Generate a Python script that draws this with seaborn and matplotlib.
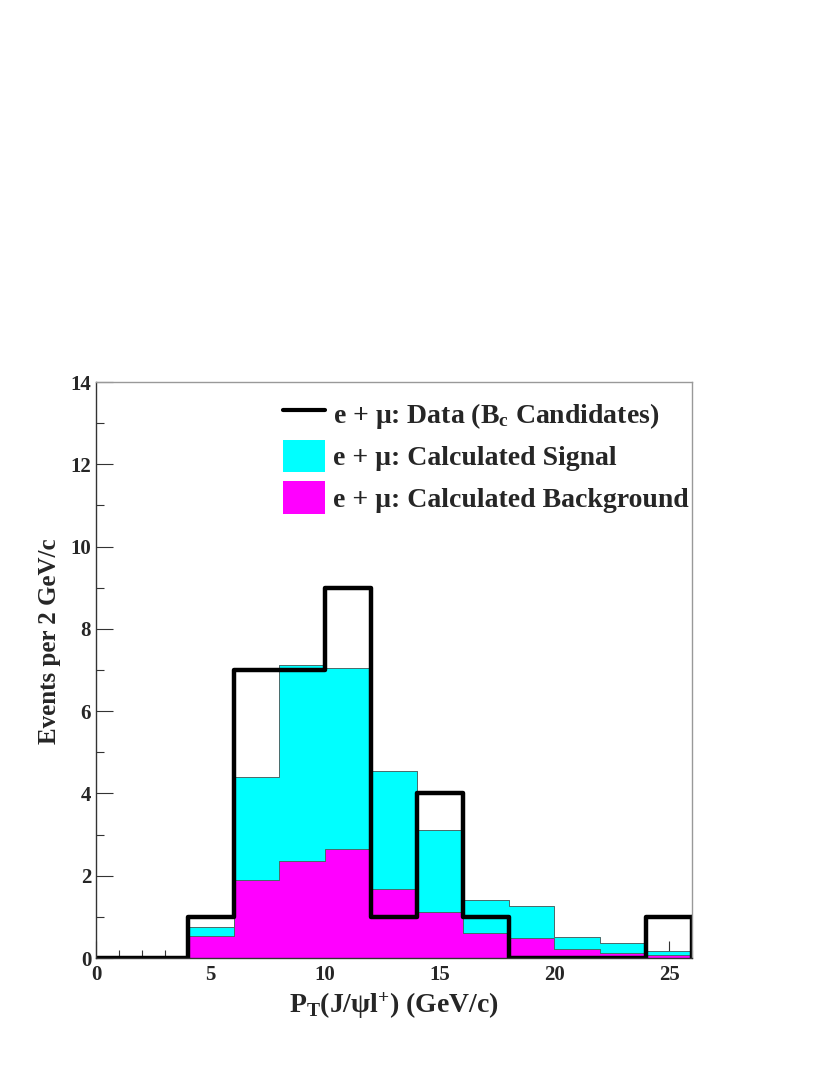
import numpy as np
import pandas as pd
import matplotlib.pyplot as plt
import seaborn as sns
from matplotlib.lines import Line2D
from matplotlib.patches import Patch

# bin layout: 2 GeV/c bins from 0 to 26
bin_edges = list(range(0, 28, 2))
bin_centers = [e + 1 for e in bin_edges[:-1]]

# values (events per bin)
data_counts = [0, 0, 1, 7, 7, 9, 1, 4, 1, 0, 0, 0, 1]
signal_plus_bkg = [0, 0, 0.76, 4.40, 7.12, 7.05, 4.55, 3.11, 1.41, 1.26, 0.50, 0.36, 0.16]
background = [0, 0, 0.53, 1.90, 2.36, 2.65, 1.67, 1.13, 0.61, 0.49, 0.21, 0.13, 0.07]
signal = [round(t - b, 3) for t, b in zip(signal_plus_bkg, background)]

df_mc = pd.DataFrame({
    'pt': bin_centers + bin_centers,
    'w': signal + background,
    'comp': ['Signal'] * len(signal) + ['Background'] * len(background),
})
df_data = pd.DataFrame({'pt': bin_centers, 'w': data_counts})

sns.set_style('ticks')
plt.rcParams['font.family'] = ['Liberation Serif', 'DejaVu Serif']
plt.rcParams['font.weight'] = 'bold'
plt.rcParams['mathtext.fontset'] = 'custom'
plt.rcParams['mathtext.rm'] = 'Liberation Serif:bold'
plt.rcParams['mathtext.bf'] = 'Liberation Serif:bold'
plt.rcParams['mathtext.it'] = 'Liberation Serif:bold'
plt.rcParams['mathtext.default'] = 'rm'

fig = plt.figure(figsize=(8.3, 10.75), dpi=100)
ax = fig.add_axes([0.1157, 0.1088, 0.718, 0.5358])

sns.histplot(data=df_mc, x='pt', weights='w', hue='comp',
             hue_order=['Signal', 'Background'], bins=bin_edges,
             multiple='stack', element='step', fill=True, alpha=1,
             palette={'Signal': '#00ffff', 'Background': '#ff00ff'},
             edgecolor='#4a6a6a', linewidth=0.7, legend=False, ax=ax)

sns.histplot(data=df_data, x='pt', weights='w', bins=bin_edges,
             element='step', fill=False, color='black', linewidth=3.2, ax=ax)
# closing edge of the last data bin at the right border
ax.axvline(26, ymin=0, ymax=data_counts[-1] / 14, color='black', linewidth=3.2)

ax.set_xlim(0, 26)
ax.set_ylim(0, 14)
ax.set_xticks([0, 5, 10, 15, 20, 25])
ax.set_xticks(np.arange(0, 27, 1), minor=True)
ax.set_yticks(np.arange(0, 15, 2))
ax.set_yticks(np.arange(0, 15, 1), minor=True)
ax.tick_params(which='both', direction='in', top=False, right=False,
               labelsize=15, color='#333333')
ax.tick_params(axis='x', pad=5)
ax.tick_params(which='major', length=12, width=0.8)
ax.tick_params(which='minor', length=6, width=0.8)
for lab in ax.get_xticklabels() + ax.get_yticklabels():
    lab.set_fontweight('bold')
for s in ax.spines.values():
    s.set_color('#999999')
    s.set_linewidth(1)
ax.spines['left'].set_color('#333333')
ax.spines['bottom'].set_color('#333333')

ax.set_xlabel('P$_\\mathrm{T}$(J/ψl$^{+}$) (GeV/c)', fontsize=20, fontweight='bold', labelpad=4)
ax.set_ylabel('Events per 2 GeV/c', fontsize=18, fontweight='bold')
ax.yaxis.set_label_coords(-0.058, 0.55)

handles = [Line2D([], [], color='black', linewidth=3),
           Patch(facecolor='#00ffff', edgecolor='none'),
           Patch(facecolor='#ff00ff', edgecolor='none')]
labels = ['e + μ: Data (B$_\\mathrm{c}$ Candidates)',
          'e + μ: Calculated Signal',
          'e + μ: Calculated Background']
ax.legend(handles, labels, loc='upper left', bbox_to_anchor=(0.295, 0.992),
          frameon=False, prop={'family': 'Liberation Serif', 'weight': 'bold', 'size': 20},
          handlelength=1.51, handleheight=1.4, handletextpad=0.29,
          labelspacing=0.33, borderaxespad=0)

fig.savefig('out.png', dpi=100)
